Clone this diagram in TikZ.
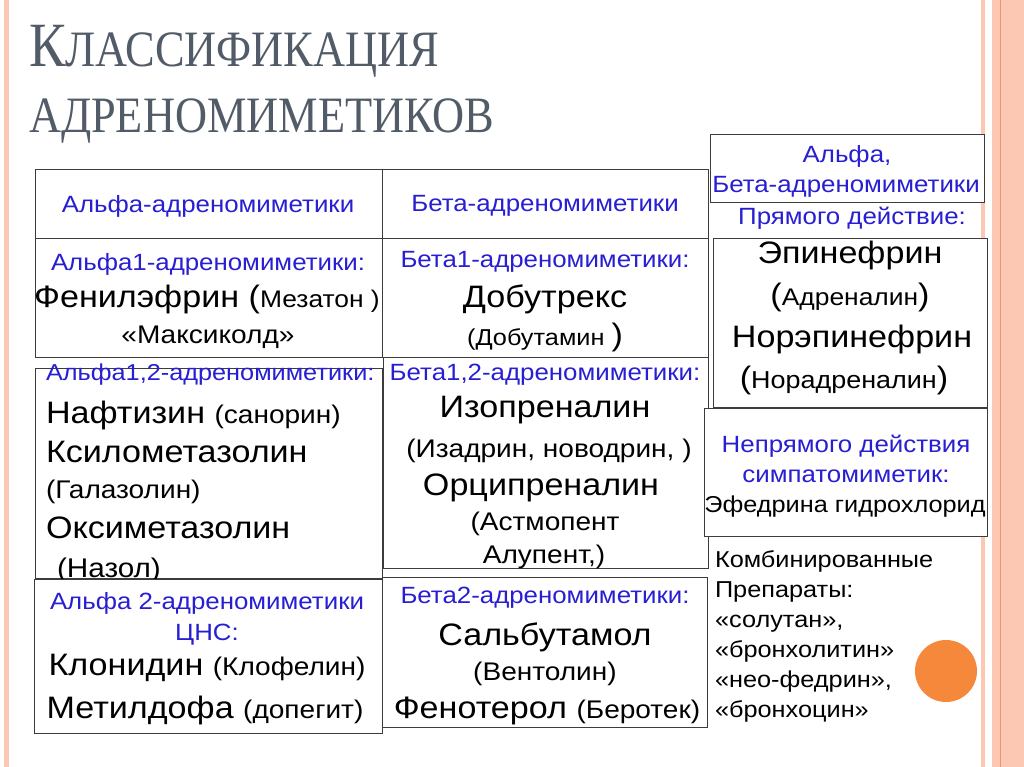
\documentclass[tikz,border=0pt]{standalone}
\usepackage{fontspec}
\setmainfont{Liberation Sans}[FakeStretch=1.1]
\newfontfamily\titlefont[FakeStretch=0.87]{Liberation Serif}
\newcommand\myfs[1]{\fontsize{#1}{#1}\selectfont}
\definecolor{blu}{RGB}{40,30,210}
\definecolor{stripe}{RGB}{252,200,180}
\definecolor{stripedk}{RGB}{240,150,110}
\definecolor{ttl}{RGB}{82,92,104}
\definecolor{boxline}{RGB}{60,60,60}
\definecolor{dot}{RGB}{246,136,60}
\tikzset{
 box/.style={draw=boxline, line width=1pt, fill=white, rectangle, inner sep=0pt},
 ln/.style={anchor=base, inner sep=0pt, outer sep=0pt},
 lnw/.style={anchor=base west, inner sep=0pt, outer sep=0pt},
 hd/.style={text=blu, font=\myfs{23.5}},
 big/.style={font=\myfs{31}},
 mid/.style={font=\myfs{25.5}},
 ttlstyle/.style={text=ttl, anchor=base west, inner sep=0pt, outer sep=0pt},
}
\begin{document}
\begin{tikzpicture}[x=1pt,y=-1pt]
\useasboundingbox (0,0) rectangle (1024,767);
\fill[white] (0,0) rectangle (1024,767);
% stripes
\fill[stripe] (4,0) rectangle (9,767);
\fill[stripe] (981,0) rectangle (985,767);
\fill[stripe] (992,0) rectangle (1024,767);
\draw[stripedk, line width=1pt] (1000.5,0) -- (1000.5,767);
% title
\node[ttlstyle] (t1) at (29,67) {\titlefont\myfs{63}К\myfs{51}ЛАССИФИКАЦИЯ};
\node[ttlstyle] (t2) at (29,133) {\titlefont\myfs{51}АДРЕНОМИМЕТИКОВ};
% column 1
\node[box, minimum width=347, minimum height=68] (a1) at (208.5,204) {};
\node[ln, hd] (a1l1) at (208,213) {Альфа-адреномиметики};
\node[box, minimum width=347, minimum height=119] (a2) at (208.5,297.5) {};
\node[ln, hd] (a2l1) at (208,270) {Альфа1-адреномиметики:};
\node[ln, big] (a2l2) at (207,307) {Фенилэфрин (\myfs{24}Мезатон )};
\node[ln, font=\myfs{25.5}] (a2l3) at (208,343) {«Максиколд»};
\node[box, minimum width=347, minimum height=210] (a3) at (208.5,473) {};
\node[lnw, hd, font=\myfs{23}] (a3l1) at (46,380) {Альфа1,2-адреномиметики:};
\node[lnw, big] (a3l2) at (46,423) {Нафтизин {\myfs{25.5}(санорин)}};
\node[lnw, big] (a3l3) at (46,462) {Ксилометазолин};
\node[lnw, mid] (a3l4) at (46,498) {(Галазолин)};
\node[lnw, big] (a3l5) at (46,538) {Оксиметазолин};
\node[lnw, font=\myfs{27}] (a3l6) at (57,577) {(Назол)};
\node[box, minimum width=348, minimum height=154] (a4) at (208,656) {};
\node[ln, hd] (a4l1) at (207,609) {Альфа 2-адреномиметики};
\node[ln, hd] (a4l2) at (207,640) {ЦНС:};
\node[ln, big] (a4l3) at (207,675) {Клонидин {\myfs{25.5}(Клофелин)}};
\node[ln, big] (a4l4) at (205,718) {Метилдофа {\myfs{25.5}(допегит)}};
% column 2
\node[box, minimum width=326, minimum height=68] (b1) at (545,204) {};
\node[ln, hd] (b1l1) at (545,212) {Бета-адреномиметики};
\node[box, minimum width=326, minimum height=119] (b2) at (545,297.5) {};
\node[ln, hd] (b2l1) at (545,267) {Бета1-адреномиметики:};
\node[ln, big] (b2l2) at (545,307) {Добутрекс};
\node[ln, font=\myfs{23}] (b2l3) at (545,345) {(Добутамин {\myfs{31})}};
\node[box, minimum width=325, minimum height=211] (b3) at (545.5,462.5) {};
\node[ln, hd] (b3l1) at (545,380) {Бета1,2-адреномиметики:};
\node[ln, big] (b3l2) at (545,417) {Изопреналин};
\node[ln, mid] (b3l3) at (549,457) {(Изадрин, новодрин, )};
\node[ln, big] (b3l4) at (541,495) {Орципреналин};
\node[ln, mid] (b3l5) at (545,530) {(Астмопент};
\node[ln, mid] (b3l6) at (544,563) {Алупент,)};
\node[box, minimum width=325, minimum height=150] (b4) at (544.5,652) {};
\node[ln, hd] (b4l1) at (545,603) {Бета2-адреномиметики:};
\node[ln, big] (b4l2) at (545,645) {Сальбутамол};
\node[ln, mid] (b4l3) at (545,680) {(Вентолин)};
\node[ln, big] (b4l4) at (547,718) {Фенотерол {\myfs{25.5}(Беротек)}};
% column 3
\node[box, minimum width=274, minimum height=68] (c1) at (847,169) {};
\node[ln, hd] (c1l1) at (847,163) {Альфа,};
\node[ln, hd] (c1l2) at (846,193) {Бета-адреномиметики};
\node[ln, hd] (c0) at (852,225) {Прямого действие:};
\node[box, minimum width=274, minimum height=169] (c2) at (850,322.5) {};
\node[ln, big] (c2l1) at (850,263) {Эпинефрин};
\node[ln, font=\myfs{24}] (c2l2) at (850,305) {{\myfs{31}(}Адреналин{\myfs{31})}};
\node[ln, big] (c2l3) at (852,347) {Норэпинефрин};
\node[ln, font=\myfs{24.5}] (c2l4) at (844,388) {{\myfs{31}(}Норадреналин{\myfs{31})}};
\node[box, minimum width=283, minimum height=128] (c3) at (845.5,472) {};
\node[ln, hd] (c3l1) at (846,452) {Непрямого действия};
\node[ln, hd] (c3l2) at (846,482) {симпатомиметик:};
\node[ln, font=\myfs{23}] (c3l3) at (845,512) {Эфедрина гидрохлорид};
\node[lnw, font=\myfs{23}] (k1) at (715,567) {Комбинированные};
\node[lnw, font=\myfs{23}] (k2) at (715,597) {Препараты:};
\node[lnw, font=\myfs{23}] (k3) at (715,627) {«солутан»,};
\node[lnw, font=\myfs{23}] (k4) at (715,657) {«бронхолитин»};
\node[lnw, font=\myfs{23}] (k5) at (715,687) {«нео-федрин»,};
\node[lnw, font=\myfs{23}] (k6) at (715,717) {«бронхоцин»};
\node[circle, fill=dot, minimum size=62, inner sep=0pt] (dotc) at (946,671) {};
\end{tikzpicture}
\end{document}
